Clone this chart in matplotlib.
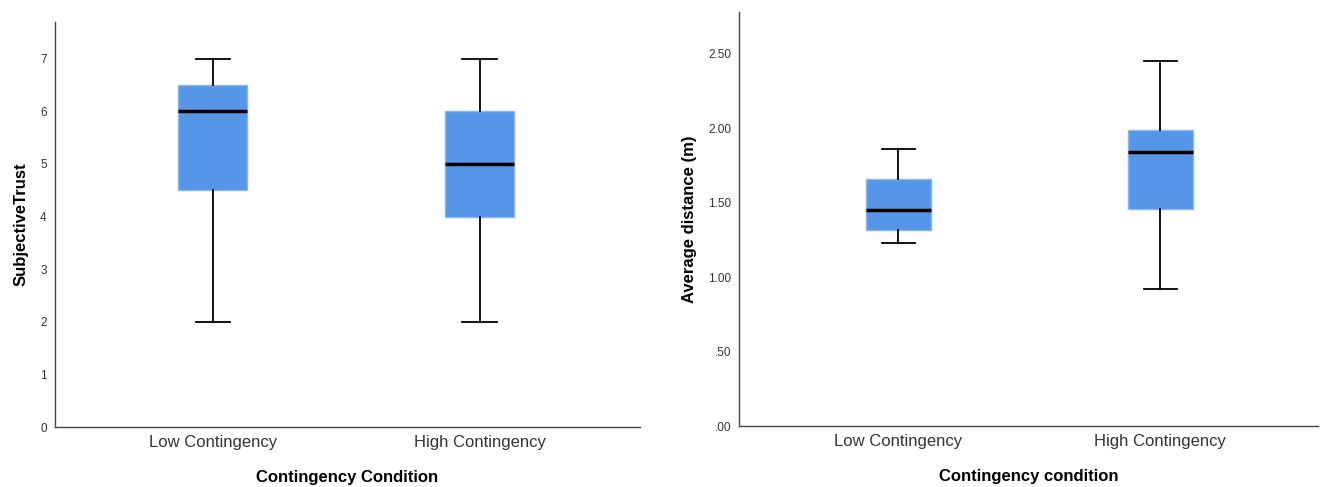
import matplotlib
matplotlib.use('Agg')
import matplotlib.pyplot as plt

plt.rcParams['font.family'] = ['Liberation Sans', 'DejaVu Sans']

conditions = ['Low Contingency', 'High Contingency']

# subjective trust: whisker low, q1, median, q3, whisker high
trust_low = [2.0, 4.5, 6.0, 6.5, 7.0]
trust_high = [2.0, 4.0, 5.0, 6.0, 7.0]

# average distance (m)
dist_low = [1.23, 1.32, 1.45, 1.66, 1.86]
dist_high = [0.92, 1.46, 1.84, 1.99, 2.45]

trust_ticks = [0, 1, 2, 3, 4, 5, 6, 7]
trust_ticklabels = ['0', '1', '2', '3', '4', '5', '6', '7']
dist_ticks = [0.0, 0.5, 1.0, 1.5, 2.0, 2.5]
dist_ticklabels = ['.00', '.50', '1.00', '1.50', '2.00', '2.50']

BOX_COLOR = '#5596e6'


def make_stats(rows, names):
    stats = []
    for r, n in zip(rows, names):
        stats.append({'whislo': r[0], 'q1': r[1], 'med': r[2], 'q3': r[3],
                      'whishi': r[4], 'label': n, 'fliers': []})
    return stats


def draw(ax, rows, ylim, ticks, ticklabels, xlim, width, ylabel, xlabel):
    ax.bxp(make_stats(rows, conditions), positions=[1, 2], widths=width,
           patch_artist=True, showfliers=False,
           boxprops=dict(facecolor=BOX_COLOR, edgecolor='#8ab8ee', linewidth=1),
           medianprops=dict(color='black', linewidth=2.5),
           whiskerprops=dict(color='black', linewidth=1.3),
           capprops=dict(color='black', linewidth=1.3),
           capwidths=width * 0.5)
    ax.set_xlim(*xlim)
    ax.set_ylim(*ylim)
    ax.set_yticks(ticks)
    ax.set_yticklabels(ticklabels)
    ax.tick_params(axis='y', length=0, labelsize=8.5, labelcolor='#333333', pad=6)
    ax.tick_params(axis='x', length=0, labelsize=12, labelcolor='#333333', pad=6)
    for s in ['top', 'right']:
        ax.spines[s].set_visible(False)
    for s in ['left', 'bottom']:
        ax.spines[s].set_color('#444444')
        ax.spines[s].set_linewidth(1)
    ax.set_ylabel(ylabel, fontsize=12, fontweight='bold', labelpad=8)
    ax.set_xlabel(xlabel, fontsize=12, fontweight='bold', labelpad=14)


fig = plt.figure(figsize=(13.25, 4.87), dpi=100)
ax1 = fig.add_axes([0.0415, 0.123, 0.4415, 0.832])
ax2 = fig.add_axes([0.558, 0.125, 0.437, 0.850])

draw(ax1, [trust_low, trust_high], (0, 7.7), trust_ticks, trust_ticklabels,
     (0.408, 2.601), 0.259, 'SubjectiveTrust', 'Contingency Condition')
draw(ax2, [dist_low, dist_high], (0, 2.78), dist_ticks, dist_ticklabels,
     (0.393, 2.603), 0.248, 'Average distance (m)', 'Contingency condition')

fig.savefig('out.png', dpi=100)
